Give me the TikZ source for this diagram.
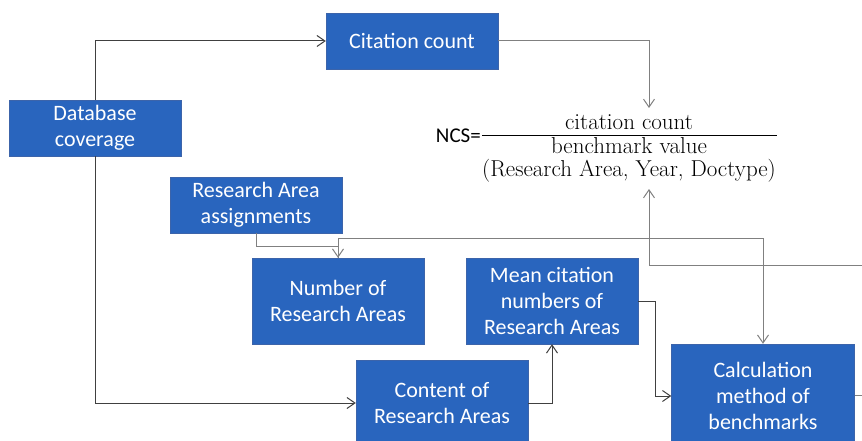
\documentclass[tikz,border=0pt]{standalone}
\usepackage{fontspec}
\newfontfamily\boxfont{Carlito}
\usetikzlibrary{arrows.meta}
\definecolor{boxblue}{RGB}{41,101,190}
\definecolor{boxline}{RGB}{60,100,170}
\definecolor{darkline}{RGB}{64,64,64}
\definecolor{lightline}{RGB}{128,128,128}

\begin{document}
\begin{tikzpicture}[x=1pt, y=-1pt]
      \tikzstyle{box}=[rectangle, draw=boxline, fill=boxblue, text=white, align=center,
        inner sep=0pt, minimum width=172pt, minimum height=56pt,
        font=\boxfont\fontsize{22}{26}\selectfont]
      \tikzstyle{formula}=[inner sep=0pt, align=center, font=\fontsize{23}{23}\selectfont]
      \tikzstyle{link}=[draw=darkline, line width=1pt, -{Straight Barb[length=8pt, width=11pt]}]
      \tikzstyle{glink}=[link, draw=lightline]

      \useasboundingbox (0,0) rectangle (862,441);

      \path (412, 41) node[box] (cite) {Citation count};
      \path (95, 128) node[box] (db) {Database\\coverage};
      \path (256, 205) node[box] (assign) {Research Area\\assignments};
      \path (338, 301) node[box, minimum height=86pt] (number) {Number of\\Research Areas};
      \path (552, 301) node[box, minimum height=86pt] (mean) {Mean citation\\numbers of\\Research Areas};
      \path (442, 403) node[box, minimum height=86pt] (content) {Content of\\Research Areas};
      \path (763, 396) node[box, minimum width=183pt, minimum height=104pt] (calc) {Calculation\\method of\\benchmarks};

      % NCS formula
      \path (629, 122) node[formula] (num) {citation count};
      \path (629, 160) node[formula] (den) {benchmark value\\(Research Area, Year, Doctype)};
      \path (482, 136) node[anchor=east, inner sep=1pt, font=\boxfont\fontsize{21}{24}\selectfont] (ncs) {NCS=};
      \draw[line width=1pt] (ncs.east) -- (777, 136);

      \coordinate (ncstop) at (649, 108);
      \coordinate (ncsbot) at (649, 189);
      \coordinate (edgeA) at (862, 265);
      \coordinate (edgeB) at (862, 395);

      \draw [link]
        (db.north) |- (cite.west);
      \draw [link]
        (db.south) |- (content.west);
      \draw [link]
        (content.east) -| (mean.south);
      \draw [link]
        (mean.east) -- ++(17, 0) |- (calc.west);

      \draw [glink]
        (cite.east) -| (ncstop);
      \draw [glink]
        (assign.south) -- ++(0, 13) -| (number.north);
      \draw [glink]
        (number.north) -- ++(0, -19) -| (calc.north);
      \draw [glink]
        (edgeA) -| (ncsbot);
      \draw [lightline, line width=1pt]
        (calc.east |- edgeB) -- (edgeB);
\end{tikzpicture}
\end{document}
